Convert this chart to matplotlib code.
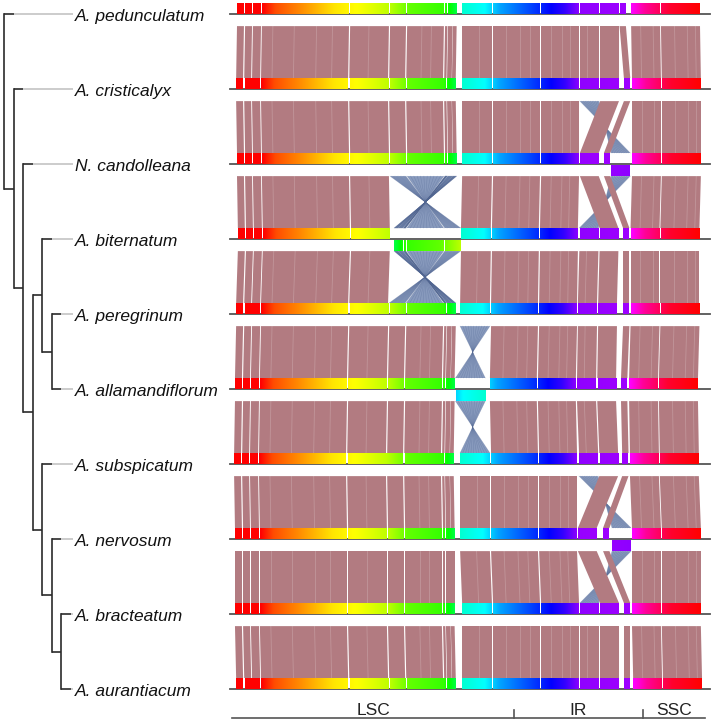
import numpy as np
import matplotlib.pyplot as plt
from matplotlib.colors import hsv_to_rgb
from matplotlib.patches import Polygon

plt.rcParams['font.family'] = ['Liberation Sans', 'DejaVu Sans']

# taxa, top to bottom
taxa = ['A. pedunculatum', 'A. cristicalyx', 'N. candolleana', 'A. biternatum',
        'A. peregrinum', 'A. allamandiflorum', 'A. subspicatum', 'A. nervosum',
        'A. bracteatum', 'A. aurantiacum']

# cladogram
tree = ('A. pedunculatum',
        ('A. cristicalyx',
         ('N. candolleana',
          (('A. biternatum', ('A. peregrinum', 'A. allamandiflorum')),
           ('A. subspicatum', ('A. nervosum', ('A. bracteatum', 'A. aurantiacum')))))))

# locally collinear blocks, reference (A. pedunculatum) coordinates in kb
lcb_start = [0.0, 2.8, 5.5, 8.6, 39.1, 52.9, 58.8, 71.9, 72.9, 74.6,
             77.8, 88.5, 105.1, 118.5, 125.5, 132.2, 136.2, 146.5]
lcb_end = [2.4, 5.2, 8.3, 38.7, 52.5, 58.4, 71.5, 72.7, 74.5, 75.9,
           88.1, 104.7, 118.2, 125.1, 132.0, 134.4, 146.2, 160.0]

# small indels inside the blocks (reference kb), seen as faint streaks
minor_breaks = [12.4, 19.8, 27.5, 33.0, 45.6, 63.9, 67.2, 83.5, 93.0, 97.8,
                101.2, 108.6, 112.3, 115.0, 121.0, 139.5, 143.8, 151.2, 155.6, 158.4]

# genome layouts: (first lcb, last lcb, start kb, strand)
layouts = [
    [(0, 17, 0.0, 1)],
    [(0, 9, -0.3, 1), (10, 14, 77.8, 1), (15, 15, 133.7, 1), (16, 17, 136.5, 1)],
    [(0, 9, 0.0, 1), (10, 12, 77.8, 1), (14, 14, 118.5, 1), (15, 15, 126.8, 1),
     (13, 13, 129.3, -1), (16, 17, 136.5, 1)],
    [(0, 4, 0.3, 1), (5, 9, 54.3, -1), (10, 12, 77.4, 1), (13, 14, 118.3, 1),
     (15, 15, 133.4, 1), (16, 17, 136.0, 1)],
    [(0, 9, -0.3, 1), (10, 12, 77.1, 1), (13, 14, 117.8, 1), (15, 15, 133.4, 1),
     (16, 17, 136.0, 1)],
    [(0, 9, -0.7, 1), (10, 10, 75.5, -1), (11, 12, 87.4, 1), (13, 14, 117.5, 1),
     (15, 15, 132.7, 1), (16, 17, 135.5, 1)],
    [(0, 9, -1.0, 1), (10, 12, 77.1, 1), (13, 14, 118.2, 1), (15, 15, 133.1, 1),
     (16, 17, 135.8, 1)],
    [(0, 9, -0.7, 1), (10, 12, 77.1, 1), (14, 14, 117.8, 1), (15, 15, 126.5, 1),
     (13, 13, 129.6, -1), (16, 17, 136.5, 1)],
    [(0, 9, -0.7, 1), (10, 12, 77.8, 1), (13, 14, 118.5, 1), (15, 15, 133.7, 1),
     (16, 17, 136.5, 1)],
    [(0, 9, -0.3, 1), (10, 12, 77.8, 1), (13, 14, 118.5, 1), (15, 15, 133.7, 1),
     (16, 17, 136.9, 1)],
]

regions = ['LSC', 'IR', 'SSC']
region_edges = [-1.7, 95.7, 140.3, 161.7]

# rainbow ramp along the reference genome (kb -> hue)
ramp_kb = [0, 8.6, 13.1, 21.8, 33.9, 42.5, 52.9, 59.8, 71.9, 75.9, 77.8, 85.7,
           90.9, 104.7, 113.4, 118.5, 134.4, 136.2, 141.0, 149.6, 160.0]
ramp_hue = [0.0, 0.0, 0.05, 0.09, 0.15, 0.17, 0.21, 0.27, 0.30, 0.38, 0.47, 0.50,
            0.56, 0.64, 0.70, 0.76, 0.77, 0.83, 0.90, 0.97, 1.0]

PINK = '#b27b81'
BLUE = '#7b8fb6'
BAR_H = 11 / 75.0


def block_positions(layout):
    pos = {}
    for first, last, start, strand in layout:
        base = lcb_start[first]
        total = lcb_end[last] - base
        for k in range(first, last + 1):
            if strand > 0:
                p0 = start + lcb_start[k] - base
                p1 = start + lcb_end[k] - base
            else:
                p0 = start + total - (lcb_end[k] - base)
                p1 = start + total - (lcb_start[k] - base)
            pos[k] = (p0, p1, strand)
    return pos


def ref_to_pos(pos, k, r):
    p0, p1, strand = pos[k]
    f = (r - lcb_start[k]) / (lcb_end[k] - lcb_start[k])
    return p0 + f * (p1 - p0) if strand > 0 else p1 - f * (p1 - p0)


positions = [block_positions(l) for l in layouts]

fig = plt.figure(figsize=(7.14, 7.22), dpi=100)
ax = fig.add_axes([0, 0, 1, 1])
ax_tree = fig.add_axes([0, 0, 1, 1])
for a in (ax, ax_tree):
    a.set_axis_off()
    a.patch.set_alpha(0)

y_lim = (708 / 75.0, -14 / 75.0)

# baselines
for i in range(len(taxa)):
    ax.plot([-2.4, 163.5], [i, i], color='#555555', lw=1.3, zorder=1)

# coloured blocks
for i, pos in enumerate(positions):
    for k, (p0, p1, strand) in pos.items():
        ref = np.linspace(lcb_start[k], lcb_end[k], 60)
        hue = np.interp(ref, ramp_kb, ramp_hue) % 1.0
        rgb = hsv_to_rgb(np.stack([hue, np.ones_like(hue), np.ones_like(hue)], axis=1))
        if strand < 0:
            rgb = rgb[::-1]
            y0, y1 = i + 0.015, i + 0.015 + BAR_H
        else:
            y0, y1 = i - BAR_H, i
        ax.imshow(rgb[None, :, :], extent=[p0 + 0.1, p1 - 0.1, y1, y0],
                  aspect='auto', interpolation='bilinear', zorder=3)

# links between neighbouring genomes
for i in range(len(taxa) - 1):
    up, lo = positions[i], positions[i + 1]
    y_top, y_bot = i + BAR_H + 0.015, i + 1 - BAR_H
    for k in range(len(lcb_start)):
        a0, a1, sa = up[k]
        b0, b1, sb = lo[k]
        a_s, a_e = (a0, a1) if sa > 0 else (a1, a0)
        b_s, b_e = (b0, b1) if sb > 0 else (b1, b0)
        if sa == sb:
            ax.add_patch(Polygon([(a_s, y_top), (a_e, y_top), (b_e, y_bot), (b_s, y_bot)],
                                 closed=True, facecolor=PINK, edgecolor='none', zorder=2))
            for r in minor_breaks:
                if lcb_start[k] < r < lcb_end[k]:
                    ax.plot([ref_to_pos(up, k, r), ref_to_pos(lo, k, r)], [y_top, y_bot],
                            color='white', lw=0.6, alpha=0.2, zorder=2)
        else:
            ax.add_patch(Polygon([(a_s, y_top), (a_e, y_top), (b_e, y_bot), (b_s, y_bot)],
                                 closed=True, facecolor=BLUE, edgecolor='none',
                                 alpha=0.9, zorder=2))
            for t in np.linspace(0, 1, 12):
                ax.plot([a_s + t * (a_e - a_s), b_s + t * (b_e - b_s)], [y_top, y_bot],
                        color='#4f6490', lw=0.4, alpha=0.35, zorder=2)

# LSC / IR / SSC scale
y_scale = 704 / 75.0
ax.plot([region_edges[0], region_edges[-1]], [y_scale, y_scale], color='#555555', lw=1.2)
for e in region_edges[1:-1]:
    ax.plot([e, e], [y_scale, y_scale - 0.105], color='#555555', lw=1.2)
for name, lo_e, hi_e in zip(regions, region_edges[:-1], region_edges[1:]):
    ax.text((lo_e + hi_e) / 2, y_scale - 0.04, name, ha='center', va='baseline',
            fontsize=12.5, color='#222222')

ax.set_xlim((0 - 237) * 160 / 463.0, (714 - 237) * 160 / 463.0)
ax.set_ylim(*y_lim)

# tree
TIP_END = 7.26


def draw_node(node, depth):
    if isinstance(node, str):
        y = taxa.index(node)
        if depth < TIP_END:
            ax_tree.plot([depth, TIP_END], [y, y], color='#c4c4c4', lw=1.2,
                         solid_capstyle='butt')
        ax_tree.text(TIP_END + 0.2, y + 0.087, node, fontsize=12.5, style='italic',
                     ha='left', va='baseline', color='#111111')
        return y
    ys = []
    for child in node:
        cy = draw_node(child, depth + 1)
        ax_tree.plot([depth, depth + 1], [cy, cy], color='#2b2b2b', lw=1.2,
                     solid_capstyle='butt')
        ys.append(cy)
    ax_tree.plot([depth, depth], [min(ys), max(ys)], color='#2b2b2b', lw=1.2)
    return (min(ys) + max(ys)) / 2.0


draw_node(tree, 0)
ax_tree.set_xlim(-4 / 9.5, 710 / 9.5)
ax_tree.set_ylim(*y_lim)

fig.savefig('out.png', dpi=100)
plt.close(fig)
